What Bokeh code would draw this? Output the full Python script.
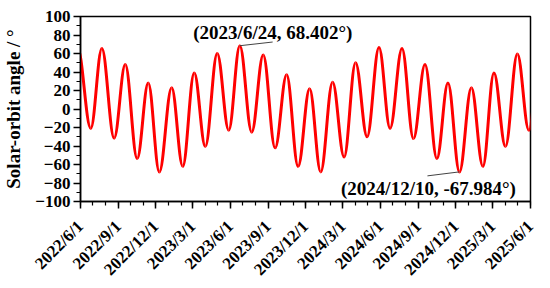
import math
from datetime import datetime
import pandas as pd
from bokeh.plotting import figure
from bokeh.models import FixedTicker, CustomJSTickFormatter, Label, Range1d
from bokeh.embed import file_html
from bokeh.resources import INLINE

# Successive extrema (peaks / troughs) of the solar-orbit angle
extrema_dates = [
    "2022-05-25", "2022-06-26", "2022-07-23", "2022-08-22", "2022-09-18",
    "2022-10-17", "2022-11-13", "2022-12-10", "2023-01-09", "2023-02-05",
    "2023-03-05", "2023-04-01", "2023-04-30", "2023-05-28", "2023-06-24",
    "2023-07-23", "2023-08-20", "2023-09-18", "2023-10-16", "2023-11-13",
    "2023-12-11", "2024-01-07", "2024-02-05", "2024-03-04", "2024-04-01",
    "2024-04-29", "2024-05-28", "2024-06-24", "2024-07-23", "2024-08-20",
    "2024-09-17", "2024-10-16", "2024-11-12", "2024-12-10", "2025-01-08",
    "2025-02-05", "2025-03-04", "2025-04-01", "2025-04-30", "2025-05-28",
    "2025-06-25",
]
extrema_values = [
    66.0, -21.0, 65.5, -31.5, 48.0,
    -53.5, 28.0, -68.0, 23.0, -62.0,
    39.0, -40.5, 60.0, -23.0, 68.402,
    -25.0, 58.5, -42.0, 37.0, -62.0,
    22.0, -68.0, 29.0, -52.0, 50.0,
    -30.0, 66.5, -21.0, 65.5, -32.0,
    48.0, -53.5, 28.0, -67.984, 23.0,
    -62.0, 39.0, -40.5, 59.5, -23.0,
    66.0,
]

x_tick_labels = ["2022/6/1", "2022/9/1", "2022/12/1", "2023/3/1", "2023/6/1",
                 "2023/9/1", "2023/12/1", "2024/3/1", "2024/6/1", "2024/9/1",
                 "2024/12/1", "2025/3/1", "2025/6/1"]
y_ticks = [-100, -80, -60, -40, -20, 0, 20, 40, 60, 80, 100]
y_minor = list(range(-100, 101, 10))

peak_date, peak_value = "2023/6/24", 68.402
trough_date, trough_value = "2024/12/10", -67.984

FONT = "Liberation Serif"


def to_ms(d):
    return (d - datetime(1970, 1, 1)).total_seconds() * 1000.0


x_ticks = [to_ms(datetime.strptime(s, "%Y/%m/%d")) for s in x_tick_labels]
month_starts = pd.date_range(x_tick_labels[0].replace("/", "-"),
                             x_tick_labels[-1].replace("/", "-"), freq="MS")
x_minor = [to_ms(d.to_pydatetime()) for d in month_starts]

t = [to_ms(datetime.strptime(s, "%Y-%m-%d")) for s in extrema_dates]
v = extrema_values
k = 1 - 2 / math.pi  # cubic Bezier control fraction approximating a half-cosine
x0, x1 = t[:-1], t[1:]
y0, y1 = v[:-1], v[1:]
cx0 = [a + k * (b - a) for a, b in zip(x0, x1)]
cx1 = [b - k * (b - a) for a, b in zip(x0, x1)]

p = figure(width=550, height=288, output_backend="svg", toolbar_location=None,
           x_axis_type="datetime",
           x_range=Range1d(x_ticks[0], x_ticks[-1]),
           y_range=Range1d(y_ticks[0], y_ticks[-1]))
p.min_border_left = 80
p.min_border_right = 20
p.min_border_top = 16
p.min_border_bottom = 86

p.bezier(x0=x0, y0=y0, x1=x1, y1=y1, cx0=cx0, cy0=y0, cx1=cx1, cy1=y1,
         line_color="#ff0000", line_width=3)

# annotations
pk = to_ms(datetime.strptime(peak_date, "%Y/%m/%d"))
tr = to_ms(datetime.strptime(trough_date, "%Y/%m/%d"))
day = 86400000.0
p.segment(x0=[pk], y0=[peak_value], x1=[pk + 80 * day], y1=[peak_value + 4],
          line_color="#444444", line_width=1)
p.segment(x0=[tr], y0=[trough_value], x1=[tr - 78 * day], y1=[trough_value - 4.3],
          line_color="#444444", line_width=1)
for x, y, txt, xo, yo in [
    (pk, peak_value, f"({peak_date}, {peak_value:.3f}°)", 33, 13),
    (tr, trough_value, f"({trough_date}, {trough_value:.3f}°)", -31, -17),
]:
    p.add_layout(Label(x=x, y=y, text=txt, x_offset=xo, y_offset=yo,
                       text_align="center", text_baseline="middle",
                       text_font=FONT, text_font_style="bold",
                       text_font_size="19px", text_color="black"))

p.xgrid.visible = False
p.ygrid.visible = False
p.outline_line_color = "black"
p.outline_line_width = 1.5
p.outline_line_alpha = 1

p.xaxis.ticker = FixedTicker(ticks=x_ticks, minor_ticks=x_minor)
p.xaxis.major_label_overrides = {tk: lab for tk, lab in zip(x_ticks, x_tick_labels)}
p.xaxis.formatter = CustomJSTickFormatter(code="""
const d = new Date(tick);
return d.getUTCFullYear() + '/' + (d.getUTCMonth() + 1) + '/' + d.getUTCDate();
""")
p.xaxis.major_label_orientation = math.pi / 4
p.xaxis.major_label_standoff = 15

p.yaxis.ticker = FixedTicker(ticks=y_ticks, minor_ticks=y_minor)
p.yaxis.formatter = CustomJSTickFormatter(
    code="return tick < 0 ? '\\u2212' + (-tick) : '' + tick;")
p.yaxis.axis_label = "Solar-orbit angle / °"

for ax in (p.xaxis[0], p.yaxis[0]):
    ax.axis_line_width = 1.5
    ax.axis_line_color = "black"
    ax.major_tick_line_width = 1.5
    ax.minor_tick_line_width = 1.2
    ax.major_tick_line_color = "black"
    ax.minor_tick_line_color = "black"
    ax.major_tick_out = 7
    ax.major_tick_in = 0
    ax.minor_tick_out = 4
    ax.minor_tick_in = 0
    ax.major_label_text_font = FONT
    ax.major_label_text_font_style = "bold"
    ax.major_label_text_font_size = "17px"
    ax.major_label_text_color = "black"
    ax.axis_label_text_font = FONT
    ax.axis_label_text_font_style = "bold"
    ax.axis_label_text_font_size = "19px"
    ax.axis_label_text_color = "black"
p.yaxis.major_label_standoff = 3
p.yaxis.axis_label_standoff = 8

open("out.html", "w").write(file_html(p, INLINE))
